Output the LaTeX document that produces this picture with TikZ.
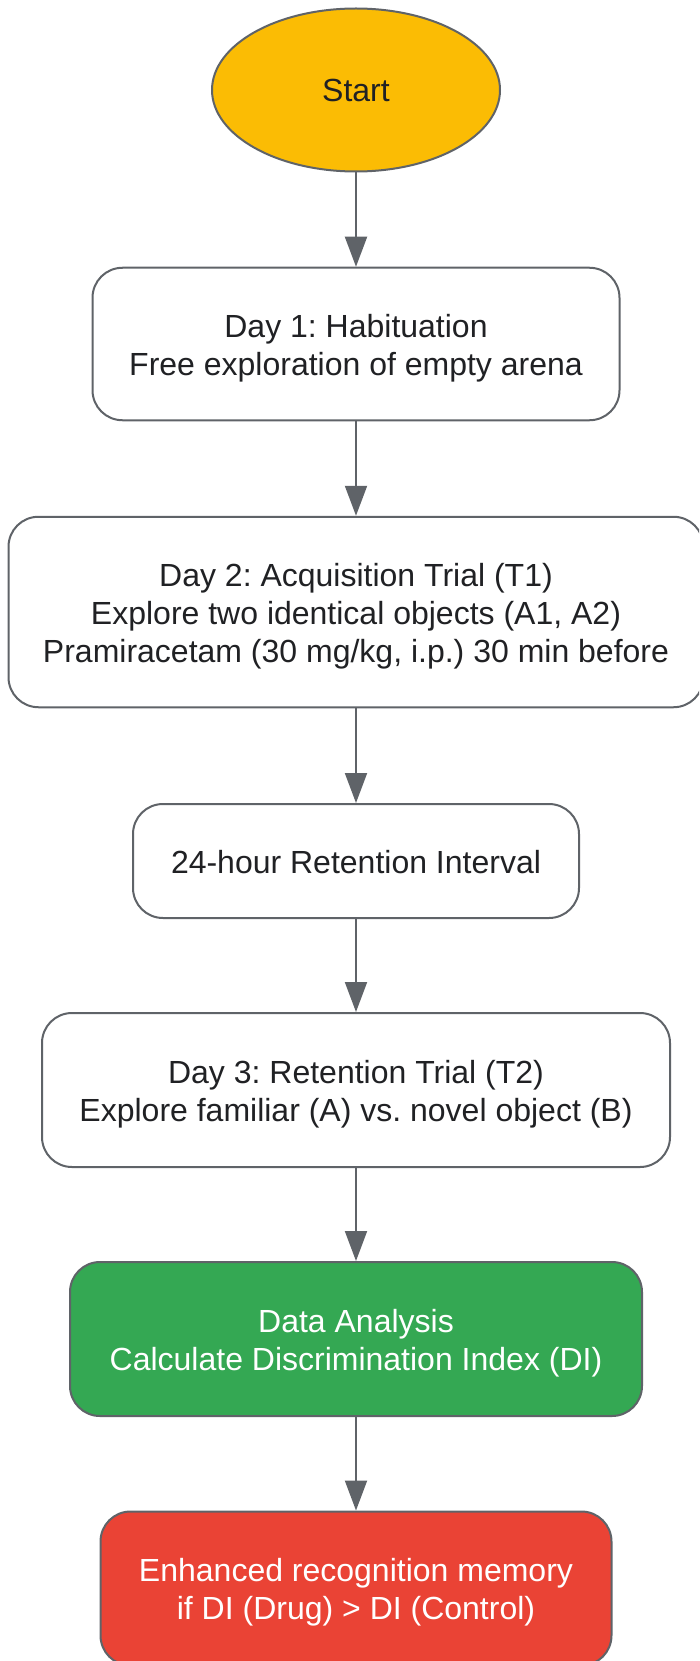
\documentclass[tikz,border=0pt]{standalone}
\usepackage{fontspec}
\setmainfont{Liberation Sans}
\usetikzlibrary{shapes.geometric,arrows.meta}
\definecolor{edgegray}{HTML}{5F6368}
\definecolor{txtdark}{HTML}{202124}
\definecolor{startyellow}{HTML}{FBBC04}
\definecolor{okgreen}{HTML}{34A853}
\definecolor{endred}{HTML}{EA4335}
\newcommand{\ls}{\rule[-7pt]{0pt}{38pt}}
\tikzset{
  basenode/.style={draw=edgegray, line width=2pt, inner sep=0pt, align=center,
    font=\fontsize{32}{38}\selectfont\frenchspacing, text=txtdark},
  stepbox/.style={basenode, rectangle, rounded corners=30pt, fill=white},
  startnode/.style={basenode, ellipse, fill=startyellow},
  flowarrow/.style={draw=edgegray, line width=2pt, -{Triangle[length=30pt,width=22pt]}}
}
\begin{document}
\begin{tikzpicture}[x=1pt,y=-1pt]
\useasboundingbox (0,0) rectangle (699,1661);
\clip (0,0) rectangle (699,1661);
\node[startnode, minimum width=288pt, minimum height=163pt] (start) at (356,90) {\ls Start};
\node[stepbox, minimum width=527pt, minimum height=152.5pt] (day1) at (356,344) {\ls Day 1: Habituation\\\ls Free exploration of empty arena};
\node[stepbox, minimum width=695pt, minimum height=190.5pt] (day2) at (356,612) {\ls Day 2: Acquisition Trial (T1)\\\ls Explore two identical objects (A1, A2)\\\ls Pramiracetam (30 mg/kg, i.p.) 30 min before};
\node[stepbox, minimum width=446pt, minimum height=114pt] (ret) at (356,861) {\ls 24-hour Retention Interval};
\node[stepbox, minimum width=628pt, minimum height=154pt] (day3) at (356,1090) {\ls Day 3: Retention Trial (T2)\\\ls Explore familiar (A) vs. novel object (B)};
\node[stepbox, fill=okgreen, text=white, minimum width=572pt, minimum height=154pt] (data) at (356,1339) {\ls Data Analysis\\\ls Calculate Discrimination Index (DI)};
\node[stepbox, fill=endred, text=white, minimum width=511pt, minimum height=154pt] (result) at (356,1588.5) {\ls Enhanced recognition memory\\\ls if DI (Drug) > DI (Control)};
\draw[flowarrow] (start.south) -- (day1.north);
\draw[flowarrow] (day1.south) -- (day2.north);
\draw[flowarrow] (day2.south) -- (ret.north);
\draw[flowarrow] (ret.south) -- (day3.north);
\draw[flowarrow] (day3.south) -- (data.north);
\draw[flowarrow] (data.south) -- (result.north);
\end{tikzpicture}
\end{document}
